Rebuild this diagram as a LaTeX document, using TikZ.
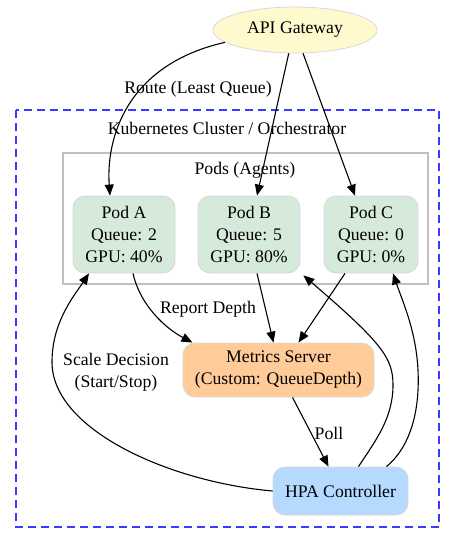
\documentclass[tikz,border=0pt]{standalone}
\usepackage{fontspec}
\setmainfont{Liberation Serif}
\usetikzlibrary{arrows.meta,shapes.geometric}
\definecolor{gwfill}{HTML}{FFFACD}
\definecolor{podfill}{HTML}{D5EADA}
\definecolor{msfill}{HTML}{FFCC99}
\definecolor{hpafill}{HTML}{B5D9FF}
\definecolor{nodeline}{HTML}{D8D8D8}
\definecolor{dashblue}{HTML}{3A3AFF}
\begin{document}
\begin{tikzpicture}[x=1pt,y=-1pt,
  every node/.style={font=\fontsize{17.7}{22}\selectfont},
  box/.style={draw=nodeline, line width=0.8pt, rounded corners=12pt, align=center, inner sep=0pt},
  podbox/.style={box, fill=podfill, minimum height=77pt},
  lbl/.style={align=center, inner sep=1pt},
  edge/.style={draw=black, line width=1.1pt, -{Triangle[length=11pt,width=9pt]}}
]
\useasboundingbox (0,0) rectangle (455,543);
% clusters
\draw[dashblue, line width=1.3pt, dash pattern=on 8pt off 5pt] (16,110) rectangle (439,527);
\node[lbl] (klabel) at (227,128) {Kubernetes Cluster / Orchestrator};
\draw[black!25, line width=1.2pt] (63,153) rectangle (428,284);
\node[lbl] (plabel) at (245,170) {Pods (Agents)};
% nodes
\node[ellipse, draw=nodeline, fill=gwfill, line width=0.8pt, minimum width=164pt, minimum height=46pt, inner sep=0pt] (gw) at (295,30) {API Gateway};
\node[podbox, minimum width=102pt] (podA) at (124,234.5) {Pod A\\Queue: 2\\GPU: 40\%};
\node[podbox, minimum width=102pt] (podB) at (249,234.5) {Pod B\\Queue: 5\\GPU: 80\%};
\node[podbox, minimum width=94pt] (podC) at (371,234.5) {Pod C\\Queue: 0\\GPU: 0\%};
\node[box, fill=msfill, minimum width=191pt, minimum height=54pt] (ms) at (278.5,370) {Metrics Server\\(Custom: QueueDepth)};
\node[box, fill=hpafill, minimum width=135pt, minimum height=48pt] (hpa) at (340.5,491) {HPA Controller};
% edges
\draw[edge] (gw.190) .. controls (125,65) and (106,140) .. ([xshift=-14pt]podA.north);
\draw[edge] (gw.255) -- ([xshift=8pt]podB.north);
\draw[edge] (gw.289) -- ([xshift=-16pt]podC.north);
\node[lbl] (rlabel) at (198,89) {Route (Least Queue)};
\draw[edge] ([xshift=9pt]podA.south) .. controls (140,305) and (165,328) .. ([xshift=-86pt]ms.north);
\node[lbl] (dlabel) at (208,309) {Report Depth};
\draw[edge] ([xshift=8pt]podB.south) -- ([xshift=-5pt]ms.north);
\draw[edge] ([xshift=-26pt]podC.south) -- ([xshift=20pt]ms.north);
\draw[edge] ([xshift=14pt]ms.south) -- ([xshift=-12pt]hpa.north);
\node[lbl] (polllabel) at (329,433) {Poll};
\draw[edge] (hpa.west) .. controls (170,482) and (52,430) .. (52,362) .. controls (52,322) and (74,296) .. ([xshift=-35pt]podA.south);
\node[lbl] (slabel) at (116,372) {Scale Decision\\(Start/Stop)};
\draw[edge] ([xshift=18pt]hpa.north) .. controls (376,440) and (393,418) .. (393,385) .. controls (393,358) and (382,343) .. ([xshift=3pt,yshift=-2pt]podB.south east);
\draw[edge] ([xshift=46pt]hpa.north) .. controls (410,447) and (420,412) .. (418,370) .. controls (416,330) and (402,300) .. ([xshift=22pt]podC.south);
\end{tikzpicture}
\end{document}
